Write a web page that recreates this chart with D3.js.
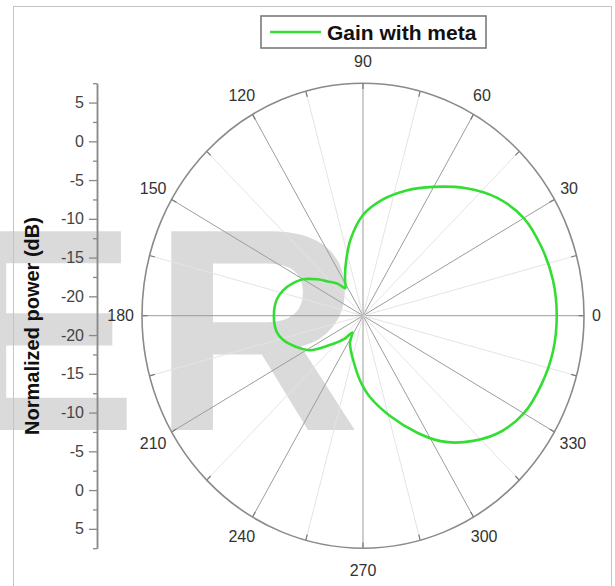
<!DOCTYPE html>
<html>
<head>
<meta charset="utf-8">
<script src="https://cdn.jsdelivr.net/npm/d3@7"></script>
<style>
  html, body { margin: 0; padding: 0; background: #fff; }
  svg { display: block; }
  text { font-family: "Liberation Sans", Arial, sans-serif; }
</style>
</head>
<body>
<svg id="chart" width="615" height="586"></svg>
<script>
// Measured antenna pattern (degrees, normalized power in dB)
const angles = [0, 10, 20, 30, 40, 50, 60, 70, 80, 90, 100, 110, 118, 124, 130, 136, 143, 150, 157, 163, 170,
                180, 190, 196, 204, 212, 222, 230, 236, 243, 250, 257, 267, 275, 286, 296, 303, 310, 320, 330, 340, 350];
const gainDb = [3.8, 3.7, 3.3, 2.7, 1.2, -1.0, -3.3, -5.3, -7.3, -9.5, -12.6, -15.6, -17.3, -18.2, -17.1, -16.2, -14.7, -13.1, -12.0, -11.2, -10.6,
                -10.4, -10.6, -11.2, -12.6, -14.1, -17.1, -18.6, -19.9, -18.6, -17.7, -16.6, -14.2, -12.0, -9.0, -5.7, -3.2, -1.2, 1.2, 2.7, 3.3, 3.7];

const seriesName = "Gain with meta";
const axisTitle = "Normalized power (dB)";
const angleLabels = [0, 30, 60, 90, 120, 150, 180, 210, 240, 270, 300, 330];
const spokeAngles = d3.range(0, 360, 15);
const radialTicks = [-20, -15, -10, -5, 0, 5];
const radialMinorTicks = [-17.5, -12.5, -7.5, -2.5, 2.5, 7.5];
const radialDomain = [-22.5, 7.5];

const svg = d3.select("#chart");
const cx = 363, cy = 315.7, rx = 221, ry = 232.5;

// normalized radius and plane scales (the plot area is slightly taller than wide)
const r = d3.scaleLinear().domain(radialDomain).range([0, 1]);
const x = d3.scaleLinear().domain([-1, 1]).range([cx - rx, cx + rx]);
const y = d3.scaleLinear().domain([-1, 1]).range([cy + ry, cy - ry]);
const rad = d => d * Math.PI / 180;

// faint lettering behind the plot
const wm = svg.append("g").attr("fill", "#dadada").attr("font-weight", "bold").attr("font-size", 289);
wm.append("text").attr("x", 138).attr("y", 430).attr("text-anchor", "end").text("E");
wm.append("text").attr("x", 152).attr("y", 430).text("R");

// outer frame
svg.append("rect").attr("x", 13.5).attr("y", 6.5).attr("width", 598).attr("height", 600)
  .attr("fill", "none").attr("stroke", "#c4c4c4").attr("stroke-width", 1);

// spokes
const grid = svg.append("g");
grid.selectAll("line.spoke").data(spokeAngles).join("line")
  .attr("class", "spoke")
  .attr("x1", x(0)).attr("y1", y(0))
  .attr("x2", d => x(Math.cos(rad(d)))).attr("y2", d => y(Math.sin(rad(d))))
  .attr("stroke", d => d % 30 === 0 ? "#9c9c9c" : "#e4e4e4")
  .attr("stroke-width", 1);

// outer boundary
svg.append("ellipse")
  .attr("cx", x(0)).attr("cy", y(0))
  .attr("rx", x(1) - x(0)).attr("ry", y(-1) - y(0))
  .attr("fill", "none").attr("stroke", "#8a8a8a").attr("stroke-width", 1.6);

// inward ticks on the boundary
grid.selectAll("line.tick").data(spokeAngles).join("line")
  .attr("class", "tick")
  .attr("x1", d => x(Math.cos(rad(d)))).attr("y1", d => y(Math.sin(rad(d))))
  .attr("x2", d => x(0.975 * Math.cos(rad(d)))).attr("y2", d => y(0.975 * Math.sin(rad(d))))
  .attr("stroke", "#777").attr("stroke-width", 1.2);

// angle labels
const al = svg.append("g").attr("font-size", 16).attr("fill", "#333");
al.selectAll("text").data(angleLabels).join("text")
  .attr("text-anchor", "middle").attr("dy", "0.36em")
  .text(d => d)
  .each(function (d) {
    const hw = this.getComputedTextLength() / 2;
    const c = Math.cos(rad(d)), s = Math.sin(rad(d));
    d3.select(this)
      .attr("x", cx + c * (rx + 8 + hw))
      .attr("y", cy - s * (ry + 22));
  });

// pattern curve
const line = d3.line()
  .x((d, i) => x(r(gainDb[i]) * Math.cos(rad(d))))
  .y((d, i) => y(r(gainDb[i]) * Math.sin(rad(d))))
  .curve(d3.curveCatmullRomClosed.alpha(0.5));
svg.append("path").datum(angles)
  .attr("d", line)
  .attr("fill", "none").attr("stroke", "#33dd33").attr("stroke-width", 2.6);

// mirrored radial axis on the left
const yTop = d3.scaleLinear().domain(radialDomain).range([cy, cy - ry]);
const yBot = d3.scaleLinear().domain(radialDomain).range([cy, cy + ry]);
const axisX = 97;
[yTop, yBot].forEach(sc => {
  const minor = svg.append("g").attr("transform", `translate(${axisX},0)`);
  minor.call(d3.axisLeft(sc).tickValues(radialMinorTicks).tickSize(4).tickSizeOuter(0).tickFormat(""));
  const major = svg.append("g").attr("transform", `translate(${axisX},0)`);
  major.call(d3.axisLeft(sc).tickValues(radialTicks).tickSize(8).tickSizeOuter(0).tickPadding(5)
    .tickFormat(d => String(d)));
  [minor, major].forEach(g => {
    g.selectAll("path.domain").attr("stroke", "#8a8a8a").attr("stroke-width", 1.5);
    g.selectAll(".tick line").attr("stroke", "#8a8a8a").attr("stroke-width", 1.3);
  });
  major.selectAll(".tick text").attr("fill", "#444").attr("font-size", 16)
    .attr("font-family", "'Liberation Sans', Arial, sans-serif");
});

// axis title
svg.append("text")
  .attr("transform", `translate(39,326) rotate(-90)`)
  .attr("text-anchor", "middle")
  .attr("font-size", 20).attr("font-weight", "bold").attr("fill", "#111")
  .text(axisTitle);

// legend
const lg = svg.append("g");
lg.append("rect").attr("x", 261).attr("y", 16).attr("width", 225).attr("height", 32)
  .attr("fill", "#fff").attr("stroke", "#7a7a7a").attr("stroke-width", 1.6);
lg.append("line").attr("x1", 270).attr("x2", 321).attr("y1", 32).attr("y2", 32)
  .attr("stroke", "#33dd33").attr("stroke-width", 2.6);
lg.append("text").attr("x", 327).attr("y", 32).attr("dy", "0.36em")
  .attr("font-size", 21).attr("font-weight", "bold").attr("fill", "#111")
  .text(seriesName);
</script>
</body>
</html>
